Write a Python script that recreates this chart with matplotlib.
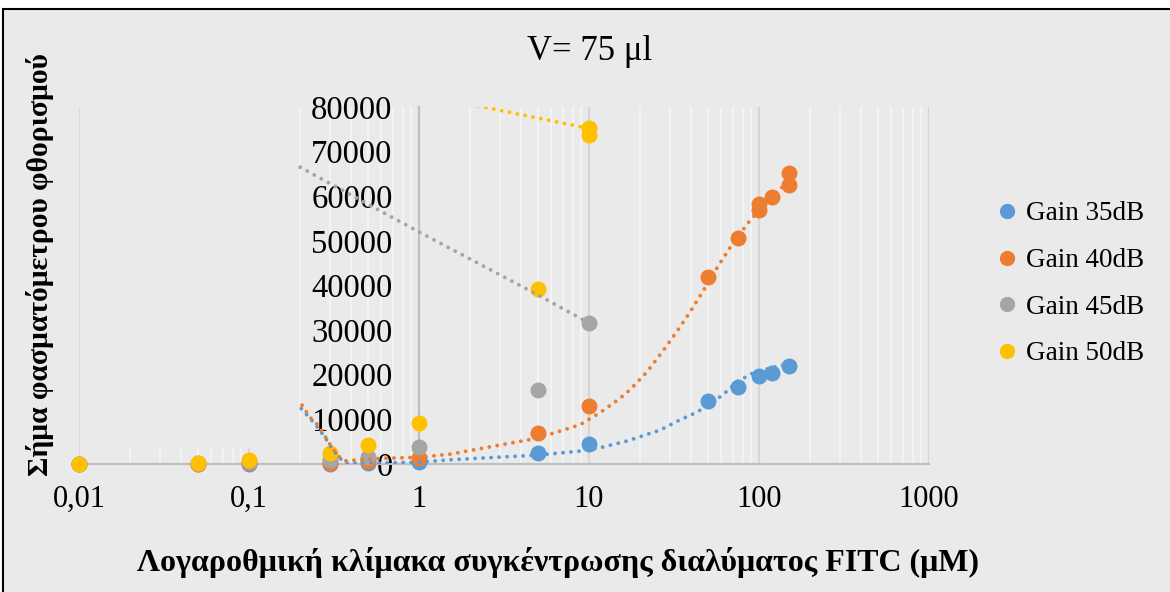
import matplotlib
matplotlib.use('Agg')
import matplotlib.pyplot as plt
from matplotlib.patches import Rectangle
from matplotlib.lines import Line2D

plt.rcParams['font.family'] = ['Liberation Serif', 'DejaVu Serif']

# ---------------- data ----------------
title = "V= 75 μl"
xlabel = "Λογαροθμική κλίμακα συγκέντρωσης διαλύματος FITC (μM)"
ylabel = "Σήμα φασματόμετρου φθορισμού"
series_names = ["Gain 35dB", "Gain 40dB", "Gain 45dB", "Gain 50dB"]
colors = ["#5B9BD5", "#ED7D31", "#A5A5A5", "#FFC000"]

x_35 = [0.01, 0.05, 0.1, 0.3, 0.5, 1, 5, 10, 50, 75, 100, 120, 150]
y_35 = [0, 0, 0, 100, 200, 400, 2400, 4400, 14200, 17300, 19700, 20500, 22000]

x_40 = [0.01, 0.05, 0.1, 0.3, 0.5, 1, 5, 10, 50, 75, 100, 100, 120, 150, 150]
y_40 = [0, 100, 200, 300, 600, 1400, 6900, 13000, 41900, 50600, 57000, 58200, 59800, 62500, 65200]

x_45 = [0.01, 0.05, 0.1, 0.3, 0.5, 1, 5, 10]
y_45 = [0, 200, 400, 900, 1600, 3800, 16600, 31500]

x_50 = [0.01, 0.05, 0.1, 0.3, 0.5, 1, 5, 10, 10]
y_50 = [0, 300, 800, 2500, 4300, 9200, 39200, 73800, 75200]

# trendlines
tx_35 = [0.203, 0.244, 0.28, 0.312, 0.343, 0.367, 0.5, 1, 1.46, 5, 8.86, 12.1, 16.9,
         26.2, 34.3, 42, 46.2, 56.6, 61.4, 74.2, 92.2, 120, 150]
ty_35 = [12400, 9000, 6000, 3100, 1300, 200, 150, 400, 900, 2000, 2900, 3800, 5200,
         7600, 9900, 11400, 12300, 14600, 15500, 18400, 20400, 21600, 22500]

tx_40 = [0.205, 0.228, 0.255, 0.296, 0.334, 0.367, 0.432, 0.648, 1, 1.52, 5, 8.86, 11.6,
         15.2, 17.4, 21.9, 27.2, 34.3, 40.9, 50, 57.4, 65.7, 75.2, 86.2, 98.7, 112.9,
         129.4, 150]
ty_40 = [13200, 10500, 8700, 4700, 1800, 700, 900, 1300, 1500, 2200, 5800, 8800, 11500,
         14700, 16600, 20600, 25300, 30700, 35100, 40500, 44300, 47800, 51000, 54000,
         56700, 59100, 61200, 63300]

tx_45 = [0.2, 1, 5, 10]
ty_45 = [66500, 52000, 37900, 31600]

tx_50 = [2.0, 10]
ty_50 = [80600, 75200]

x_ticks = [0.01, 0.1, 1, 10, 100, 1000]
x_ticklabels = ["0,01", "0,1", "1", "10", "100", "1000"]
y_ticks = [0, 10000, 20000, 30000, 40000, 50000, 60000, 70000, 80000]
y_ticklabels = ["0", "10000", "20000", "30000", "40000", "50000", "60000", "70000", "80000"]

# ---------------- figure ----------------
W, H = 1170, 592
fig = plt.figure(figsize=(W / 100, H / 100), dpi=100)
fig.patch.set_facecolor('white')
bg = '#EAEAEA'
frame = Rectangle((3 / W, -0.05), 1.2, 1.05 - 9 / H,
                  transform=fig.transFigure, facecolor=bg,
                  edgecolor='black', linewidth=1.5, zorder=-10)
fig.add_artist(frame)

ax = fig.add_axes([79 / W, (H - 464) / H, 850 / W, 357 / H])
ax.set_zorder(1)
ax.set_facecolor('none')
ax.set_xscale('log')
ax.set_xlim(0.01, 1000)
ax.set_ylim(0, 80000)

# vertical gridlines
for dec in [0.01, 0.1, 1, 10, 100]:
    for k in range(2, 10):
        xv = dec * k
        top = 3300 if xv < 0.19 else 80000
        ax.plot([xv, xv], [0, top], color='#F4F4F4', lw=1.3, zorder=1)
for xv in [10, 100, 1000]:
    ax.plot([xv, xv], [0, 80000], color='#D6D6D6', lw=1.6, zorder=1.1)
ax.plot([0.01, 0.01], [0, 80000], color='#DADADA', lw=1.6, zorder=1.1)
ax.plot([0.1, 0.1], [0, 3300], color='#DADADA', lw=1.6, zorder=1.1)

for s in ['top', 'right']:
    ax.spines[s].set_visible(False)
ax.spines['bottom'].set_color('#BFBFBF')
ax.spines['bottom'].set_linewidth(1.6)
ax.spines['left'].set_position(('data', 1))
ax.spines['left'].set_color('#BFBFBF')
ax.spines['left'].set_linewidth(1.6)

ax.set_xticks(x_ticks)
ax.set_xticklabels(x_ticklabels)
ax.xaxis.set_minor_locator(matplotlib.ticker.NullLocator())
ax.set_yticks(y_ticks)
ax.set_yticklabels(y_ticklabels)
ax.tick_params(axis='x', length=0, pad=15, labelsize=22)
ax.tick_params(axis='y', length=0, pad=19, labelsize=23.5)

xs = [x_35, x_40, x_45, x_50]
ys = [y_35, y_40, y_45, y_50]
for xd, yd, c, n in zip(xs, ys, colors, series_names):
    ax.plot(xd, yd, 'o', color=c, markersize=11.5, markeredgewidth=0, label=n,
            zorder=3, clip_on=False)

txs = [tx_35, tx_40, tx_45, tx_50]
tys = [ty_35, ty_40, ty_45, ty_50]
for tx, ty, c in zip(txs, tys, colors):
    ax.plot(tx, ty, color=c, lw=2.8, linestyle=(0, (0.01, 2.05)),
            dash_capstyle='round', solid_joinstyle='round', zorder=4)

fig.text(590 / W, 1 - 52 / H, title, ha='center', va='center', fontsize=25)
fig.text(558 / W, 1 - 563 / H, xlabel, ha='center', va='center', fontsize=23,
         fontweight='bold')
fig.text(40 / W, 1 - 265 / H, ylabel, ha='center', va='center', fontsize=21.3,
         fontweight='bold', rotation=90)

handles = [Line2D([], [], marker='o', linestyle='none', color=c, markersize=11,
                  markeredgewidth=0) for c in colors]
fig.legend(handles, series_names, loc='center left',
           bbox_to_anchor=(998 / W, 1 - 284 / H), frameon=False, fontsize=19.5,
           handlelength=0.7, handletextpad=0.35, labelspacing=0.8,
           borderpad=0, borderaxespad=0)

fig.savefig('out.png', dpi=100, facecolor=fig.get_facecolor())
